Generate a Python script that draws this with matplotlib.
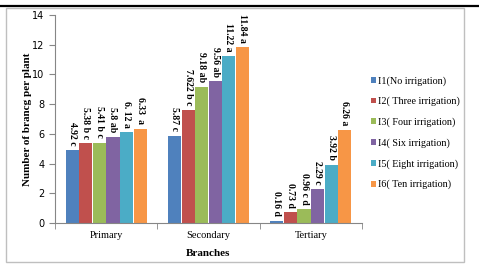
import numpy as np
import matplotlib.pyplot as plt
from matplotlib.patches import Rectangle
from matplotlib.lines import Line2D

categories = ["Primary", "Secondary", "Tertiary"]
series_names = ["I1(No irrigation)", "I2( Three irrigation)", "I3( Four irrigation)",
                "I4( Six irrigation)", "I5( Eight irrigation)", "I6( Ten irrigation)"]
colors = ["#4F81BD", "#C0504D", "#9BBB59", "#8064A2", "#4BACC6", "#F79646"]

# values per series (Primary, Secondary, Tertiary)
i1 = [4.92, 5.87, 0.16]
i2 = [5.38, 7.622, 0.73]
i3 = [5.41, 9.18, 0.96]
i4 = [5.8, 9.56, 2.29]
i5 = [6.12, 11.22, 3.92]
i6 = [6.33, 11.84, 6.26]
values = [i1, i2, i3, i4, i5, i6]

labels_i1 = ["4.92 c", "5.87 c", "0.16 d"]
labels_i2 = ["5.38 b c", "7.622 b c", "0.73 d"]
labels_i3 = ["5.41 b c", "9.18 ab", "0.96 c d"]
labels_i4 = ["5.8 ab", "9.56 ab", "2.29 c"]
labels_i5 = ["6. 12 a", "11.22 a", "3.92 b"]
labels_i6 = ["6.33  a", "11.84 a", "6.26 a"]
bar_labels = [labels_i1, labels_i2, labels_i3, labels_i4, labels_i5, labels_i6]

serif = "Liberation Serif"

fig = plt.figure(figsize=(4.79, 2.66), dpi=100)
W, H = 479, 266

# page decoration: top rule and chart frame
fig.add_artist(Line2D([0, 1], [1 - 6 / H, 1 - 6 / H], color="black", lw=1.6))
fig.add_artist(Rectangle((6 / W, 4 / H), (464 - 6) / W, (258 - 4) / H,
                         fill=False, ec="#BFBFBF", lw=1.0))

ax = fig.add_axes([55 / W, (H - 223) / H, (362 - 55) / W, (223 - 15) / H])

x = np.arange(len(categories))
bw = 0.133
for k, (vals, labs) in enumerate(zip(values, bar_labels)):
    pos = x - 2.5 * bw + k * bw
    ax.bar(pos, vals, width=bw * 0.96, color=colors[k], label=series_names[k],
           edgecolor="none", zorder=2)
    for px, v, lab in zip(pos, vals, labs):
        ax.text(px, v + 0.3, lab, rotation=270, ha="center", va="bottom",
                fontsize=7, fontweight="bold", family=serif, clip_on=False)

ax.set_xlim(-0.5, 2.5)
ax.set_ylim(0, 14)
ax.set_yticks(range(0, 15, 2))
ax.set_xticks(x)
ax.set_xticklabels(categories, family=serif, fontsize=7.5)
ax.set_xticks([-0.5, 0.5, 1.5, 2.5], minor=True)
ax.tick_params(axis="x", which="major", length=0, pad=6)
ax.tick_params(axis="x", which="minor", length=4, color="#868686", direction="out")
ax.tick_params(axis="y", labelsize=7, length=4, color="#868686", direction="out")
for s in ["top", "right"]:
    ax.spines[s].set_visible(False)
ax.spines["left"].set_color("#868686")
ax.spines["bottom"].set_color("#868686")

ax.set_ylabel("Number of brancg per plant", family=serif, fontweight="bold", fontsize=8, labelpad=0)
ax.set_xlabel("Branches", family=serif, fontweight="bold", fontsize=8, labelpad=6)

leg = fig.legend(loc="upper left", bbox_to_anchor=(367 / W, 1 - 72 / H), frameon=False,
                 prop={"family": serif, "size": 7.3}, handlelength=0.5, handleheight=0.5,
                 handletextpad=0.2, labelspacing=1.1, borderaxespad=0)

fig.savefig("out.png", dpi=100)
